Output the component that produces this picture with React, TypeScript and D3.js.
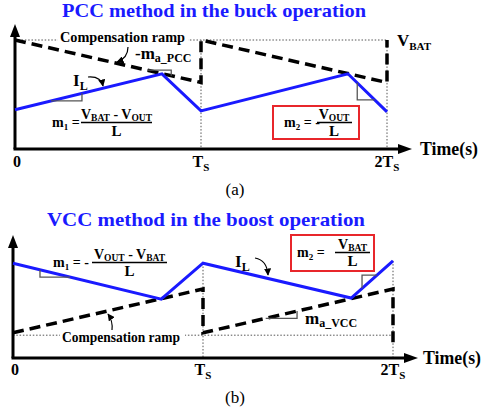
import React from 'react';
import * as d3 from 'd3';

const W = 482;
const H = 413;
const BLUE = '#1a1aff';
const RED = '#e8262b';
const GRAY = '#555';
const FONT = '"Liberation Serif"';

// ---------- Panel (a): PCC method, buck ----------
const aTime = [0, 0.79, 1, 1.79, 2];
const aIL = [0.36, 0.69, 0.35, 0.69, 0.34];
const aRampTime = [0, 1, 1, 2, 2];
const aRamp = [1, 0.61, 1, 0.61, 1];
const aRef = 1; // V_BAT dotted level

// ---------- Panel (b): VCC method, boost ----------
const bTime = [0, 0.78, 1, 1.78, 2];
const bIL = [0.79, 0.49, 0.79, 0.5, 0.81];
const bRampTime = [0, 1, 1, 2, 2];
const bRamp = [0.21, 0.575, 0.21, 0.575, 0.12];
const bRef = 0.19; // dotted base level

// tick labels on time axis
const tickValues = [0, 1, 2];
const tickMain = ['0', 'T', '2T'];
const tickSub = ['', 'S', 'S'];

// slope brackets: [start t, end t, which line, order]
const aBrackets: [number, number, 'il' | 'ramp', 'h' | 'v'][] = [
  [0.194, 0.36, 'il', 'h'],
  [0.71, 0.84, 'ramp', 'h'],
  [1.84, 1.934, 'il', 'v'],
];
const bBrackets: [number, number, 'il' | 'ramp', 'h' | 'v'][] = [
  [0.142, 0.3, 'il', 'v'],
  [1.837, 1.915, 'il', 'v'],
  [1.495, 1.33, 'ramp', 'v'],
];

function interp(times: number[], vals: number[], t: number) {
  for (let i = 0; i < times.length - 1; i++) {
    if (times[i] < times[i + 1] && t >= times[i] && t <= times[i + 1]) {
      const f = (t - times[i]) / (times[i + 1] - times[i]);
      return vals[i] + f * (vals[i + 1] - vals[i]);
    }
  }
  return vals[vals.length - 1];
}

const xa = d3.scaleLinear().domain([0, 2]).range([15, 387]);
const ya = d3.scaleLinear().domain([0, 1]).range([149, 40]);
const xb = d3.scaleLinear().domain([0, 2]).range([13, 393]);
const yb = d3.scaleLinear().domain([0, 1]).range([358, 238]);

function linePath(x: any, y: any, times: number[], vals: number[]) {
  const gen = d3
    .line<number>()
    .x((_, i) => x(times[i]))
    .y((d) => y(d));
  return gen(vals) || '';
}

function bracketPath(x: any, y: any, times: number[], vals: number[], b: [number, number, string, string]) {
  const [t1, t2, , order] = b;
  const v1 = interp(times, vals, t1);
  const v2 = interp(times, vals, t2);
  const p1 = [x(t1), y(v1)];
  const p2 = [x(t2), y(v2)];
  const c = order === 'h' ? [x(t2), y(v1)] : [x(t1), y(v2)];
  return `M${p1[0]},${p1[1]}L${c[0]},${c[1]}L${p2[0]},${p2[1]}`;
}

const ST = { fontFamily: FONT };

const T = (props: any) => <text {...props} style={ST} fontWeight={props.fontWeight ?? 'bold'} />;

const Sub = ({ main, sub, size, subSize, x, y, anchor = 'start', fill = '#000' }: any) => (
  <T x={x} y={y} fontSize={size} textAnchor={anchor} fill={fill}>
    <tspan>{main}</tspan>
    {sub ? (
      <tspan fontSize={subSize} dy={size * 0.22}>
        {sub}
      </tspan>
    ) : null}
  </T>
);

function Axes({ x0, y0, yTop, xEnd }: any) {
  return (
    <g>
      <line x1={x0} y1={y0} x2={x0} y2={yTop + 10} stroke="#000" strokeWidth={3} />
      <polygon points={`${x0},${yTop} ${x0 - 5},${yTop + 13} ${x0 + 5},${yTop + 13}`} fill="#000" />
      <line x1={x0 - 1.5} y1={y0} x2={xEnd - 10} y2={y0} stroke="#000" strokeWidth={3} />
      <polygon points={`${xEnd},${y0} ${xEnd - 14},${y0 - 5} ${xEnd - 14},${y0 + 5}`} fill="#000" />
    </g>
  );
}

function Ticks({ x, baseline }: any) {
  return (
    <g>
      {tickValues.map((t, i) => (
        <Sub key={i} main={tickMain[i]} sub={tickSub[i]} size={16} subSize={11} x={x(t) + (i === 0 ? 2 : 0)} y={baseline} anchor="middle" />
      ))}
    </g>
  );
}

function TimeLabel({ x, y }: any) {
  return (
    <T x={x} y={y} fontSize={18} textLength={58} lengthAdjust="spacingAndGlyphs">
      Time(s)
    </T>
  );
}

export default function App() {
  const aRampPath = linePath(xa, ya, aRampTime, aRamp);
  const aILPath = linePath(xa, ya, aTime, aIL);
  const bRampPath = linePath(xb, yb, bRampTime, bRamp);
  const bILPath = linePath(xb, yb, bTime, bIL);

  return (
    <svg width={W} height={H} style={{ position: 'absolute', left: 0, top: 0, background: '#fff' }}>
      <defs>
        <marker id="ah" viewBox="0 0 10 10" refX="9" refY="5" markerWidth="6" markerHeight="6" orient="auto">
          <path d="M0,0 L10,5 L0,10 z" fill="#000" />
        </marker>
      </defs>
      <rect x={0} y={0} width={W} height={H} fill="#fff" />

      {/* ================= Panel (a) ================= */}
      <T x={62} y={17} fontSize={19} fill={BLUE} textLength={304} lengthAdjust="spacingAndGlyphs">
        PCC method in the buck operation
      </T>

      <line x1={xa(0)} y1={ya(aRef)} x2={xa(2)} y2={ya(aRef)} stroke={GRAY} strokeWidth={1} strokeDasharray="1.5,1.8" />
      {[1, 2].map((t) => (
        <line key={t} x1={xa(t)} y1={ya(aRef)} x2={xa(t)} y2={ya(0)} stroke={GRAY} strokeWidth={1} strokeDasharray="1.5,1.8" />
      ))}
      <rect x={58} y={30} width={130} height={15} fill="#fff" />
      <T x={60} y={42} fontSize={15} textLength={125} lengthAdjust="spacingAndGlyphs">
        Compensation ramp
      </T>

      <Axes x0={xa(0)} y0={ya(0)} yTop={24} xEnd={412} />

      <path d={aRampPath} fill="none" stroke="#000" strokeWidth={3.5} strokeDasharray="11,6" />
      <path d={aILPath} fill="none" stroke={BLUE} strokeWidth={3} strokeLinejoin="miter" />

      {aBrackets.map((b, i) => (
        <path
          key={i}
          d={bracketPath(xa, ya, b[2] === 'il' ? aTime : aRampTime, b[2] === 'il' ? aIL : aRamp, b)}
          fill="none"
          stroke={GRAY}
          strokeWidth={1.3}
        />
      ))}

      <path d="M128,47 Q128,58 117,62" fill="none" stroke="#000" strokeWidth={1.2} markerEnd="url(#ah)" />
      <path d="M88,77 Q101,76 103,86" fill="none" stroke="#000" strokeWidth={1.2} markerEnd="url(#ah)" />

      <T x={135} y={59} fontSize={17}>
        <tspan>-m</tspan>
        <tspan fontSize={12} dy={3}>a_PCC</tspan>
      </T>

      <Sub main="I" sub="L" size={17} subSize={12} x={73} y={86} />
      <Sub main="V" sub="BAT" size={17} subSize={11} x={397} y={46} />

      {/* m1 formula (a) */}
      <T x={52} y={127} fontSize={14}>
        <tspan>m</tspan>
        <tspan fontSize={9} dy={3}>1</tspan>
        <tspan dy={-3}> =</tspan>
      </T>
      <T x={116.5} y={119} fontSize={14} textAnchor="middle">
        <tspan>V</tspan>
        <tspan fontSize={9.5} dy={2}>BAT</tspan>
        <tspan dy={-2}> - V</tspan>
        <tspan fontSize={9.5} dy={2}>OUT</tspan>
      </T>
      <line x1={81} y1={122.5} x2={152} y2={122.5} stroke="#000" strokeWidth={1.3} />
      <T x={116.5} y={136} fontSize={15} textAnchor="middle">L</T>

      {/* m2 box (a) */}
      <rect x={273} y={106} width={86} height={33} fill="#fff" stroke={RED} strokeWidth={2} />
      <T x={284} y={127} fontSize={14}>
        <tspan>m</tspan>
        <tspan fontSize={9} dy={3}>2</tspan>
        <tspan dy={-3}> = -</tspan>
      </T>
      <T x={334} y={119} fontSize={14} textAnchor="middle">
        <tspan>V</tspan>
        <tspan fontSize={9.5} dy={2}>OUT</tspan>
      </T>
      <line x1={317} y1={122.5} x2={352} y2={122.5} stroke="#000" strokeWidth={1.3} />
      <T x={334} y={135.5} fontSize={15} textAnchor="middle">L</T>

      <TimeLabel x={420} y={155} />
      <Ticks x={xa} baseline={167} />
      <T x={235} y={195} fontSize={17} fontWeight="normal" textAnchor="middle">(a)</T>

      {/* ================= Panel (b) ================= */}
      <T x={47} y={226} fontSize={19} fill={BLUE} textLength={318} lengthAdjust="spacingAndGlyphs">
        VCC method in the boost operation
      </T>

      <line x1={xb(0)} y1={yb(bRef)} x2={xb(2)} y2={yb(bRef)} stroke={GRAY} strokeWidth={1} strokeDasharray="1.5,1.8" />
      {[1, 2].map((t) => (
        <line key={t} x1={xb(t)} y1={yb(interp(bTime, bIL, t))} x2={xb(t)} y2={yb(0)} stroke={GRAY} strokeWidth={1} strokeDasharray="1.5,1.8" />
      ))}
      <rect x={60} y={329} width={125} height={15} fill="#fff" />
      <T x={62} y={342} fontSize={15} textLength={118} lengthAdjust="spacingAndGlyphs">
        Compensation ramp
      </T>

      <Axes x0={xb(0)} y0={yb(0)} yTop={235} xEnd={418} />

      <path d={bRampPath} fill="none" stroke="#000" strokeWidth={3.5} strokeDasharray="11,6" />
      <path d={bILPath} fill="none" stroke={BLUE} strokeWidth={3} strokeLinejoin="miter" />

      {bBrackets.map((b, i) => (
        <path
          key={i}
          d={bracketPath(xb, yb, b[2] === 'il' ? bTime : bRampTime, b[2] === 'il' ? bIL : bRamp, b)}
          fill="none"
          stroke={GRAY}
          strokeWidth={1.3}
        />
      ))}

      <path d="M112,330 Q113,321 108,314" fill="none" stroke="#000" strokeWidth={1.2} markerEnd="url(#ah)" />
      <path d="M255,258 Q267,260 268,275" fill="none" stroke="#000" strokeWidth={1.2} markerEnd="url(#ah)" />

      <Sub main="I" sub="L" size={17} subSize={12} x={235} y={267} />

      <T x={305} y={324} fontSize={17}>
        <tspan>m</tspan>
        <tspan fontSize={12} dy={3}>a_VCC</tspan>
      </T>

      {/* m1 formula (b) */}
      <T x={53} y={267} fontSize={14}>
        <tspan>m</tspan>
        <tspan fontSize={9} dy={3}>1</tspan>
        <tspan dy={-3}> = -</tspan>
      </T>
      <T x={129.5} y={259} fontSize={14} textAnchor="middle">
        <tspan>V</tspan>
        <tspan fontSize={9.5} dy={2}>OUT</tspan>
        <tspan dy={-2}> - V</tspan>
        <tspan fontSize={9.5} dy={2}>BAT</tspan>
      </T>
      <line x1={92} y1={262.5} x2={167} y2={262.5} stroke="#000" strokeWidth={1.3} />
      <T x={129.5} y={276} fontSize={15} textAnchor="middle">L</T>

      {/* m2 box (b) */}
      <rect x={291} y={235} width={83} height={36} fill="#fff" stroke={RED} strokeWidth={2} />
      <T x={297} y={257} fontSize={14}>
        <tspan>m</tspan>
        <tspan fontSize={9} dy={3}>2</tspan>
        <tspan dy={-3}> =</tspan>
      </T>
      <T x={352.5} y={249} fontSize={14} textAnchor="middle">
        <tspan>V</tspan>
        <tspan fontSize={9.5} dy={2}>BAT</tspan>
      </T>
      <line x1={335} y1={252.5} x2={370} y2={252.5} stroke="#000" strokeWidth={1.3} />
      <T x={352.5} y={266} fontSize={15} textAnchor="middle">L</T>

      <TimeLabel x={423} y={364} />
      <Ticks x={xb} baseline={375} />
      <T x={235} y={403} fontSize={17} fontWeight="normal" textAnchor="middle">(b)</T>
    </svg>
  );
}
